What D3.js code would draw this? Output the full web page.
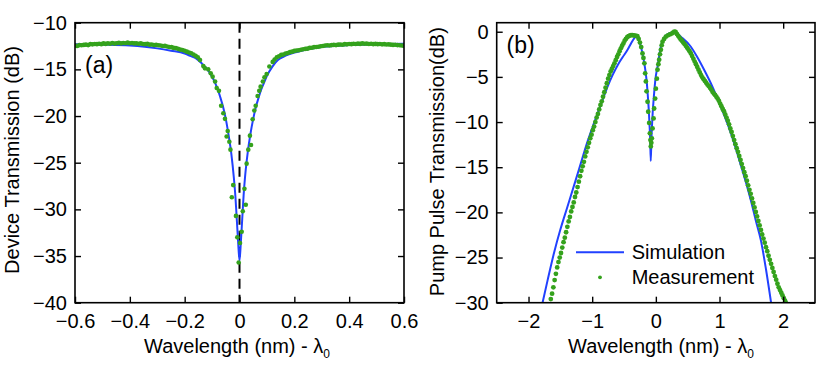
<!DOCTYPE html>
<html>
<head>
<meta charset="utf-8">
<script src="https://cdn.jsdelivr.net/npm/d3@7.9.0/dist/d3.min.js"></script>
<style>
  body { margin: 0; background: #fff; }
  svg { font-family: "Liberation Sans", Arial, sans-serif; }
</style>
</head>
<body>
<svg id="chart" width="830" height="368"></svg>
<script>
// panel (a): device transmission around the resonance
const simAx = [-0.6,-0.5,-0.4,-0.3,-0.25,-0.2,-0.18,-0.16,-0.14,-0.12,-0.1,-0.09,-0.08,-0.07,-0.06,-0.05,-0.04,-0.03,-0.02,-0.015,-0.01,-0.005,0,0.005,0.01,0.015,0.02,0.03,0.04,0.05,0.06,0.07,0.08,0.09,0.1,0.12,0.14,0.16,0.18,0.2,0.25,0.3,0.4,0.5,0.6];
const simAy = [-12.3,-12.35,-12.45,-12.75,-13.0,-13.3,-13.55,-13.8,-14.3,-14.9,-15.8,-16.4,-17.1,-18.0,-19.0,-20.3,-22.0,-24.0,-26.8,-28.6,-31.0,-33.5,-35.5,-33.5,-31.0,-28.5,-26.6,-23.9,-21.9,-20.3,-19.0,-18.0,-17.1,-16.4,-15.7,-14.7,-14.0,-13.65,-13.4,-13.2,-12.85,-12.6,-12.4,-12.3,-12.25];

const measAx = [-0.6,-0.592,-0.584,-0.576,-0.568,-0.56,-0.552,-0.544,-0.536,-0.528,-0.52,-0.512,-0.504,-0.496,-0.488,-0.48,-0.472,-0.464,-0.456,-0.448,-0.44,-0.432,-0.424,-0.416,-0.408,-0.4,-0.392,-0.384,-0.376,-0.368,-0.36,-0.352,-0.344,-0.336,-0.328,-0.32,-0.312,-0.304,-0.296,-0.288,-0.28,-0.272,-0.264,-0.256,-0.248,-0.24,-0.232,-0.224,-0.216,-0.208,-0.2,-0.192,-0.184,-0.176,-0.168,-0.16,-0.152,-0.144,
  -0.132,-0.126,-0.114,-0.105,-0.098,-0.089,-0.083,-0.075,-0.067,-0.059,-0.053,-0.047,-0.043,-0.037,-0.033,-0.028,-0.023,-0.013,-0.008,-0.003,0.002,0.008,0.012,0.018,0.023,0.026,0.032,0.038,0.042,0.048,0.054,0.059,0.066,0.072,0.077,0.085,0.091,0.099,0.109,0.121,0.128,0.136,
  0.144,0.152,0.16,0.168,0.176,0.184,0.192,0.2,0.208,0.216,0.224,0.232,0.24,0.248,0.256,0.264,0.272,0.28,0.288,0.296,0.304,0.312,0.32,0.328,0.336,0.344,0.352,0.36,0.368,0.376,0.384,0.392,0.4,0.408,0.416,0.424,0.432,0.44,0.448,0.456,0.464,0.472,0.48,0.488,0.496,0.504,0.512,0.52,0.528,0.536,0.544,0.552,0.56,0.568,0.576,0.584,0.592,0.6];
const measAy = [-12.45,-12.5,-12.4,-12.42,-12.38,-12.35,-12.4,-12.3,-12.32,-12.28,-12.3,-12.25,-12.3,-12.22,-12.27,-12.2,-12.25,-12.18,-12.24,-12.2,-12.15,-12.22,-12.18,-12.2,-12.14,-12.2,-12.17,-12.22,-12.2,-12.25,-12.22,-12.28,-12.3,-12.27,-12.35,-12.33,-12.4,-12.38,-12.42,-12.45,-12.5,-12.48,-12.55,-12.6,-12.62,-12.7,-12.72,-12.8,-12.88,-12.92,-13.0,-13.1,-13.2,-13.28,-13.4,-13.55,-13.7,-14.0,
  -14.64,-14.89,-15.0,-15.42,-15.78,-16.3,-17.0,-17.3,-18.9,-19.7,-20.3,-22.2,-21.6,-22.75,-23.6,-28.7,-27.4,-30.7,-33.0,-35.7,-33.6,-32.4,-30.2,-27.8,-29.5,-25.1,-23.6,-22.1,-23.1,-20.35,-19.4,-18.9,-17.85,-17.3,-16.85,-16.3,-15.85,-15.5,-14.7,-14.2,-13.95,-13.7,
  -13.6,-13.45,-13.4,-13.3,-13.25,-13.15,-13.1,-13.02,-12.98,-12.95,-12.9,-12.85,-12.8,-12.78,-12.7,-12.68,-12.62,-12.6,-12.58,-12.52,-12.5,-12.45,-12.42,-12.45,-12.4,-12.38,-12.4,-12.35,-12.33,-12.36,-12.3,-12.32,-12.28,-12.3,-12.25,-12.28,-12.24,-12.27,-12.22,-12.26,-12.24,-12.28,-12.25,-12.3,-12.27,-12.3,-12.28,-12.32,-12.3,-12.34,-12.32,-12.35,-12.38,-12.36,-12.4,-12.42,-12.45,-12.48];

// panel (b): pump pulse transmission
const simBx = [-1.78,-1.7,-1.6,-1.5,-1.39,-1.28,-1.18,-1.08,-0.97,-0.86,-0.76,-0.68,-0.6,-0.52,-0.445,-0.39,-0.34,-0.31,-0.27,-0.24,-0.21,-0.17,-0.14,-0.125,-0.11,-0.1,-0.09,-0.08,-0.07,-0.06,-0.05,-0.035,-0.02,0,0.026,0.05,0.08,0.12,0.18,0.24,0.29,0.4,0.55,0.65,0.76,0.89,1.02,1.1,1.18,1.26,1.34,1.42,1.49,1.57,1.65,1.73,1.81];
const simBy = [-30,-27.5,-24.5,-21.9,-19.4,-16.9,-14.6,-12.3,-10.1,-8.0,-6.1,-4.8,-3.7,-2.8,-2.0,-1.3,-0.73,-0.55,-0.9,-1.5,-2.4,-4.0,-5.8,-7.2,-8.8,-10.2,-11.8,-14.3,-12.0,-10.3,-9.0,-7.5,-6.2,-4.9,-3.9,-2.8,-1.6,-0.8,-0.3,-0.1,0,-0.6,-1.66,-2.8,-4.24,-6.1,-8.3,-9.7,-11.25,-13.0,-14.9,-16.8,-18.6,-20.9,-23.1,-26.3,-30];

const measBx = [-1.65,-1.63,-1.61,-1.59,-1.57,-1.55,-1.53,-1.51,-1.49,-1.47,-1.45,-1.43,-1.41,-1.39,-1.37,-1.35,-1.33,-1.31,-1.29,-1.27,-1.25,-1.23,-1.21,-1.19,-1.17,-1.15,-1.13,-1.11,-1.09,-1.07,-1.05,-1.03,-1.01,-0.99,-0.97,-0.95,-0.93,-0.91,-0.89,-0.87,-0.85,-0.83,-0.81,-0.79,-0.77,-0.75,-0.73,-0.71,-0.69,-0.67,-0.65,-0.63,-0.61,-0.59,-0.57,-0.55,-0.53,-0.51,-0.49,-0.47,-0.45,-0.43,-0.41,-0.39,-0.37,-0.35,-0.33,-0.31,-0.29,-0.27,-0.25,-0.23,
  -0.21,-0.195,-0.18,-0.168,-0.157,-0.146,-0.13,-0.12,-0.105,-0.094,-0.085,-0.079,-0.071,-0.063,-0.052,-0.036,-0.027,-0.011,0,0.016,0.026,0.04,0.052,0.065,0.079,0.092,0.105,0.13,0.157,0.19,0.22,0.25,0.27,0.29,
  0.31,0.33,0.35,0.37,0.39,0.41,0.43,0.45,0.47,0.49,0.51,0.53,0.55,0.57,0.59,0.61,0.63,0.65,0.67,0.69,0.71,0.73,0.75,0.77,0.79,0.81,0.83,0.85,0.87,0.89,0.91,0.93,0.95,0.97,0.99,1.01,1.03,1.05,1.07,1.09,1.11,1.13,1.15,1.17,1.19,1.21,1.23,1.25,1.27,1.29,1.31,1.33,1.35,1.37,1.39,1.41,1.43,1.45,1.47,1.49,1.51,1.53,1.55,1.57,1.59,1.61,1.63,1.65,1.67,1.69,1.71,1.73,1.75,1.77,1.79,1.81,1.83,1.85,1.87,1.89,1.91,1.93,1.95,1.97,1.99,2.01,2.03,2.04];
const measBy = [-29.6,-29.0,-28.3,-27.5,-26.8,-26.1,-25.5,-25.0,-24.5,-23.9,-23.3,-22.8,-22.2,-21.6,-21.0,-20.5,-19.9,-19.4,-18.9,-18.3,-17.8,-17.2,-16.6,-16.0,-15.4,-14.9,-14.4,-13.8,-13.3,-12.8,-12.3,-11.8,-11.4,-10.9,-10.5,-10.0,-9.5,-9.1,-8.6,-8.1,-7.7,-7.2,-6.7,-6.2,-5.7,-5.2,-4.8,-4.4,-4.1,-3.8,-3.5,-3.15,-2.8,-2.5,-2.15,-1.84,-1.55,-1.3,-1.0,-0.8,-0.6,-0.5,-0.42,-0.38,-0.37,-0.4,-0.42,-0.45,-0.5,-0.8,-1.2,-1.7,
  -2.4,-2.9,-3.5,-4.6,-5.5,-6.6,-7.75,-8.86,-10.1,-11.25,-12.0,-12.7,-12.3,-11.8,-10.7,-9.6,-8.5,-7.4,-6.3,-5.2,-4.2,-3.6,-3.1,-2.5,-2.0,-1.5,-1.1,-0.8,-0.55,-0.4,-0.3,-0.2,-0.1,0,
  -0.02,-0.25,-0.45,-0.65,-0.85,-1.0,-1.2,-1.35,-1.55,-1.75,-1.95,-2.15,-2.4,-2.7,-3.0,-3.3,-3.6,-3.9,-4.2,-4.5,-4.8,-5.05,-5.25,-5.45,-5.65,-5.85,-6.0,-6.2,-6.4,-6.65,-6.85,-7.0,-7.2,-7.4,-7.65,-7.95,-8.25,-8.55,-8.8,-9.15,-9.5,-9.85,-10.25,-10.7,-11.1,-11.55,-12.0,-12.45,-12.9,-13.3,-13.75,-14.2,-14.65,-15.1,-15.55,-16.0,-16.5,-17.0,-17.5,-17.95,-18.45,-18.95,-19.45,-19.95,-20.45,-20.95,-21.45,-21.95,-22.45,-22.9,-23.35,-23.85,-24.3,-24.8,-25.25,-25.7,-26.15,-26.6,-27.05,-27.45,-27.9,-28.3,-28.6,-28.9,-29.2,-29.5,-29.8,-30.0];

const ticksAx = [-0.6,-0.4,-0.2,0,0.2,0.4,0.6];
const ticksAy = [-40,-35,-30,-25,-20,-15,-10];
const ticksBx = [-2,-1,0,1,2];
const ticksBy = [-30,-25,-20,-15,-10,-5,0];

const blue = '#2141ff';
const green = '#34a21c';
const fmt = d3.format('~g');
const svg = d3.select('#chart');

function panel(opt) {
    const x = d3.scaleLinear().domain(opt.xdom).range([opt.left, opt.right]);
    const y = d3.scaleLinear().domain(opt.ydom).range([opt.bottom, opt.top]);
    const g = svg.append('g');

    g.append('clipPath').attr('id', opt.id + '-clip')
        .append('rect')
        .attr('x', opt.left).attr('y', opt.top)
        .attr('width', opt.right - opt.left).attr('height', opt.bottom - opt.top);

    const plot = g.append('g').attr('clip-path', `url(#${opt.id}-clip)`);
    return { x, y, g, plot };
}

function frame(p, opt, xt, yt) {
    const { x, y, g } = p;
    // bottom + left with labels, top + right just ticks (inward)
    const axes = [
        [d3.axisBottom(x).tickValues(xt).tickSize(-6).tickPadding(11).tickFormat(fmt), `translate(0,${opt.bottom})`],
        [d3.axisTop(x).tickValues(xt).tickSize(-6).tickFormat(''), `translate(0,${opt.top})`],
        [d3.axisLeft(y).tickValues(yt).tickSize(-6).tickPadding(8).tickFormat(fmt), `translate(${opt.left},0)`],
        [d3.axisRight(y).tickValues(yt).tickSize(-6).tickFormat(''), `translate(${opt.right},0)`],
    ];
    axes.forEach(([ax, tr]) => {
        const a = g.append('g').attr('transform', tr).call(ax);
        a.select('.domain').remove();
        a.selectAll('line').attr('stroke', '#000').attr('stroke-width', 1.4);
        a.selectAll('text').attr('font-size', 20).attr('fill', '#000')
            .attr('font-family', '"Liberation Sans", Arial, sans-serif');
    });
    g.append('rect')
        .attr('x', opt.left).attr('y', opt.top)
        .attr('width', opt.right - opt.left).attr('height', opt.bottom - opt.top)
        .attr('fill', 'none').attr('stroke', '#000').attr('stroke-width', 1.6);
}

function xLabel(cx) {
    const t = svg.append('text').attr('x', cx).attr('y', 352.5)
        .attr('text-anchor', 'middle').attr('font-size', 20);
    t.append('tspan').text('Wavelength (nm) - λ');
    t.append('tspan').attr('font-size', 12).attr('dy', 5).text('0');
}

// ---- (a)
const optA = { id: 'a', left: 75, right: 404, top: 22.7, bottom: 302.7, xdom: [-0.6, 0.6], ydom: [-40, -10] };
const pa = panel(optA);

pa.plot.append('line')
    .attr('x1', pa.x(0)).attr('x2', pa.x(0))
    .attr('y1', pa.y(-10)).attr('y2', pa.y(-40))
    .attr('stroke', '#000').attr('stroke-width', 2)
    .attr('stroke-dasharray', '10,6');

pa.plot.append('path')
    .datum(d3.zip(simAx, simAy))
    .attr('fill', 'none').attr('stroke', blue).attr('stroke-width', 2)
    .attr('d', d3.line().x(d => pa.x(d[0])).y(d => pa.y(d[1])).curve(d3.curveMonotoneX));

pa.plot.selectAll('circle')
    .data(d3.zip(measAx, measAy))
    .join('circle')
    .attr('cx', d => pa.x(d[0])).attr('cy', d => pa.y(d[1]))
    .attr('r', 2.3).attr('fill', green);

frame(pa, optA, ticksAx, ticksAy);

svg.append('text').attr('x', 85).attr('y', 73).attr('font-size', 23).text('(a)');
svg.append('text')
    .attr('transform', 'translate(18.5,160) rotate(-90)')
    .attr('text-anchor', 'middle').attr('font-size', 20)
    .text('Device Transmission (dB)');
xLabel(237);

// ---- (b)
const optB = { id: 'b', left: 496.7, right: 815, top: 22.7, bottom: 302.7, xdom: [-2.5, 2.5], ydom: [-30, 1] };
const pb = panel(optB);

pb.plot.append('path')
    .datum(d3.zip(simBx, simBy))
    .attr('fill', 'none').attr('stroke', blue).attr('stroke-width', 2)
    .attr('d', d3.line().x(d => pb.x(d[0])).y(d => pb.y(d[1])).curve(d3.curveMonotoneX));

pb.plot.selectAll('circle')
    .data(d3.zip(measBx, measBy))
    .join('circle')
    .attr('cx', d => pb.x(d[0])).attr('cy', d => pb.y(d[1]))
    .attr('r', 2.4).attr('fill', green);

frame(pb, optB, ticksBx, ticksBy);

svg.append('text').attr('x', 506.5).attr('y', 53).attr('font-size', 23).text('(b)');
svg.append('text')
    .attr('transform', 'translate(443.5,161.7) rotate(-90)')
    .attr('text-anchor', 'middle').attr('font-size', 20)
    .text('Pump Pulse Transmission(dB)');
xLabel(661);

// legend
const leg = svg.append('g');
leg.append('line').attr('x1', 576).attr('x2', 624).attr('y1', 252.3).attr('y2', 252.3)
    .attr('stroke', blue).attr('stroke-width', 2);
leg.append('text').attr('x', 631.7).attr('y', 259.3).attr('font-size', 20).text('Simulation');
leg.append('circle').attr('cx', 600).attr('cy', 277.3).attr('r', 1.9).attr('fill', green);
leg.append('text').attr('x', 631.7).attr('y', 284.3).attr('font-size', 20).text('Measurement');
</script>
</body>
</html>
